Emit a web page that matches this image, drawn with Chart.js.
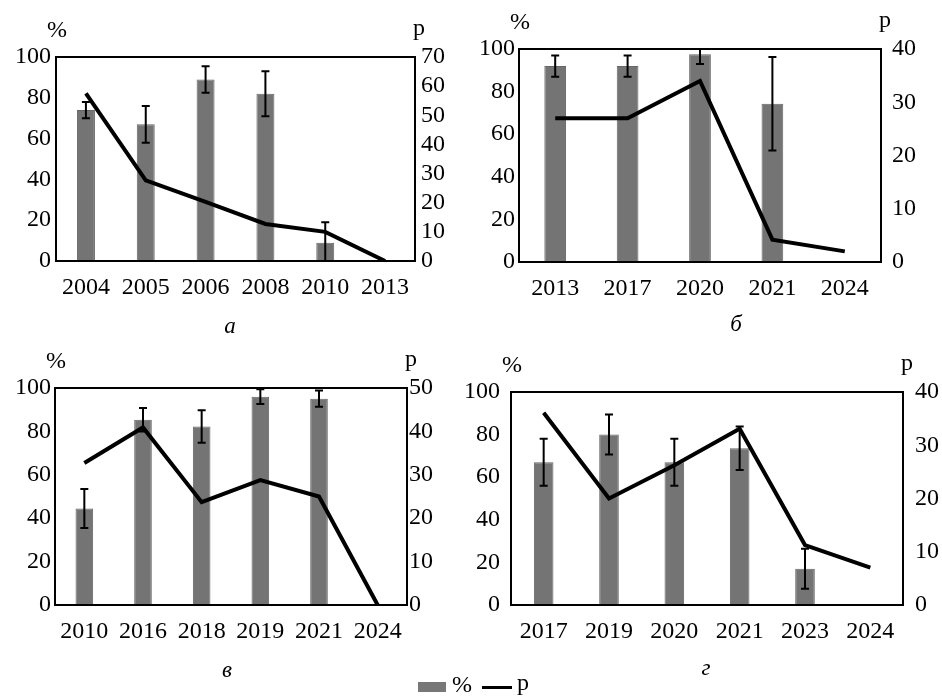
<!DOCTYPE html>
<html>
<head>
<meta charset="utf-8">
<script src="https://cdn.jsdelivr.net/npm/chart.js"></script>
<style>
  body { margin: 0; background: #fff; font-family: 'Liberation Serif', serif; }
  #wrap { position: relative; width: 942px; height: 696px; overflow: hidden; }
  canvas { position: absolute; }
  .lbl { position: absolute; font-size: 23px; font-style: italic; transform: translate(-50%, -50%); }
  .leg { position: absolute; font-size: 24px; }
</style>
</head>
<body>
<div id="wrap">
  <canvas id="ca"></canvas>
  <canvas id="cb"></canvas>
  <canvas id="cv"></canvas>
  <canvas id="cg"></canvas>
  <div class="lbl" style="left:230px;top:326px">а</div>
  <div class="lbl" style="left:736px;top:324px">б</div>
  <div class="lbl" style="left:227px;top:670px">в</div>
  <div class="lbl" style="left:706px;top:668px">г</div>
  <div style="position:absolute;left:418px;top:682px;width:28px;height:10px;background:#777"></div>
  <div class="leg" style="left:452px;top:671px">%</div>
  <div style="position:absolute;left:482px;top:686px;width:30px;height:3px;background:#000"></div>
  <div class="leg" style="left:517px;top:669px">p</div>
</div>
<script>
// панель а
const yearsA = ['2004', '2005', '2006', '2008', '2010', '2013'];
const pctA = [74, 67, 89, 82, 9, null];
const errA = [4, 9, 6.5, 11, 10, null];
const pA = [57.5, 27.7, 20.3, 12.7, 10, 0];

// панель б
const yearsB = ['2013', '2017', '2020', '2021', '2024'];
const pctB = [92, 92, 97.5, 74.3, null];
const errB = [5, 5, 4.5, 22, null];
const pB = [27, 27, 34, 4.2, 2];

// панель в
const yearsV = ['2010', '2016', '2018', '2019', '2021', '2024'];
const pctV = [44.5, 85.4, 82.3, 96, 95.1, null];
const errV = [9, 5.4, 7.5, 3.4, 3.7, null];
const pV = [32.7, 40.9, 23.7, 28.8, 25, 0];

// панель г
const yearsG = ['2017', '2019', '2020', '2021', '2023', '2024'];
const pctG = [67, 80, 67, 73.6, 17, null];
const errG = [11, 9.4, 11, 10.2, 9.4, null];
const pG = [36.1, 20, 26.25, 33.1, 11.25, 7];

Chart.defaults.font.family = "'Liberation Serif', serif";
Chart.defaults.font.size = 24;
Chart.defaults.color = '#000';

// рамка, заголовки осей и планки погрешностей
const extras = {
  id: 'extras',
  afterDatasetDraw(chart, args) {
    if (chart.data.datasets[args.index].type !== 'bar') return;
    const ctx = chart.ctx, ca = chart.chartArea;
    const errs = chart.data.datasets[args.index].err;
    const y = chart.scales.y;
    ctx.save();
    ctx.beginPath();
    ctx.rect(ca.left, ca.top, ca.right - ca.left, ca.bottom - ca.top);
    ctx.clip();
    ctx.strokeStyle = '#000';
    ctx.lineWidth = 2;
    args.meta.data.forEach((bar, i) => {
      const v = chart.data.datasets[args.index].data[i];
      if (v == null || errs[i] == null) return;
      const y1 = y.getPixelForValue(v + errs[i]);
      const y2 = y.getPixelForValue(v - errs[i]);
      ctx.beginPath();
      ctx.moveTo(bar.x, y1); ctx.lineTo(bar.x, y2);
      ctx.moveTo(bar.x - 4, y1); ctx.lineTo(bar.x + 4, y1);
      ctx.moveTo(bar.x - 4, y2); ctx.lineTo(bar.x + 4, y2);
      ctx.stroke();
    });
    ctx.restore();
  },
  afterDraw(chart) {
    const ctx = chart.ctx, ca = chart.chartArea;
    ctx.save();
    ctx.strokeStyle = '#000';
    ctx.lineWidth = 2;
    ctx.strokeRect(ca.left, ca.top, ca.right - ca.left, ca.bottom - ca.top);
    ctx.fillStyle = '#000';
    ctx.font = "24px 'Liberation Serif', serif";
    ctx.textAlign = 'center';
    ctx.textBaseline = 'alphabetic';
    ctx.fillText('%', ca.left + 1, ca.top - 20);
    ctx.fillText('p', ca.right + 4, ca.top - 22);
    ctx.restore();
  }
};

function makePanel(id, box, area, labels, pct, err, p, pMax, padL, padR) {
  const cv = document.getElementById(id);
  cv.style.left = box[0] + 'px';
  cv.style.top = box[1] + 'px';
  cv.width = box[2];
  cv.height = box[3];
  const leftW = area[0] - box[0];
  const rightW = box[0] + box[2] - area[2];
  const bottomH = box[1] + box[3] - area[3];
  new Chart(cv, {
    data: {
      labels: labels,
      datasets: [
        {
          type: 'line', label: 'p', data: p, yAxisID: 'y1', order: 0,
          borderColor: '#000', borderWidth: 4, pointRadius: 0, tension: 0
        },
        {
          type: 'bar', label: '%', data: pct, err: err, yAxisID: 'y', order: 1,
          backgroundColor: '#747474', borderColor: '#666', borderWidth: 1,
          barPercentage: 0.3, categoryPercentage: 1
        }
      ]
    },
    options: {
      responsive: false,
      animation: false,
      layout: { padding: { top: area[1] - box[1], left: 0, right: 0, bottom: 0 } },
      plugins: { legend: { display: false }, tooltip: { enabled: false } },
      scales: {
        x: {
          grid: { display: false, drawTicks: false },
          border: { display: false },
          ticks: { padding: 12, maxRotation: 0, autoSkip: false },
          afterFit(s) { s.height = bottomH; }
        },
        y: {
          position: 'left', min: 0, max: 100,
          grid: { display: false, drawTicks: false },
          border: { display: false },
          ticks: { stepSize: 20, padding: padL, autoSkip: false },
          afterFit(s) { s.width = leftW; }
        },
        y1: {
          position: 'right', min: 0, max: pMax,
          grid: { display: false, drawTicks: false },
          border: { display: false },
          ticks: { stepSize: 10, padding: padR, autoSkip: false },
          afterFit(s) { s.width = rightW; }
        }
      }
    },
    plugins: [extras]
  });
}

makePanel('ca', [0, 0, 471, 320], [56, 57, 415, 261], yearsA, pctA, errA, pA, 70, 5, 6);
makePanel('cb', [466, 0, 476, 320], [519, 49, 881, 262], yearsB, pctB, errB, pB, 40, 4, 11);
makePanel('cv', [0, 340, 460, 320], [55, 388, 407, 605], yearsV, pctV, errV, pV, 50, 4, 2);
makePanel('cg', [455, 340, 487, 320], [511, 392, 903, 605], yearsG, pctG, errG, pG, 40, 11, 12);
</script>
</body>
</html>
